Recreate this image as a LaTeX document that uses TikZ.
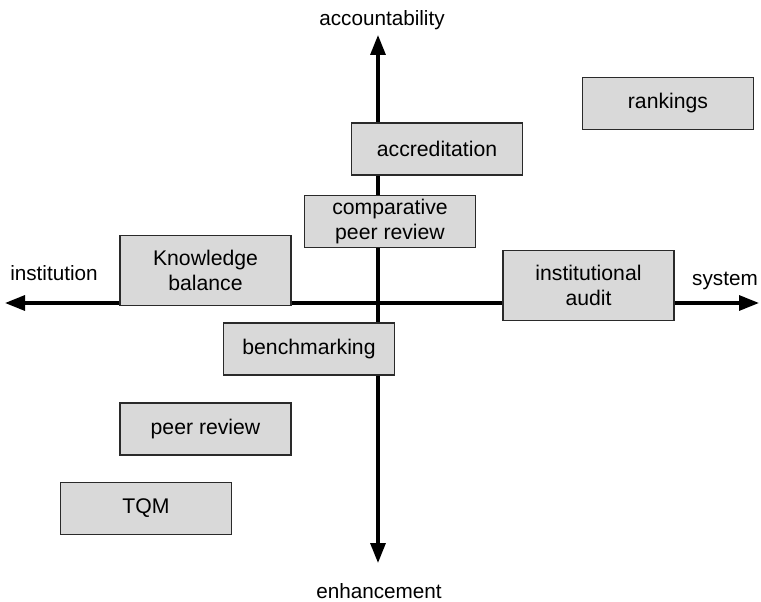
\documentclass[tikz,border=0pt]{standalone}
\usepackage{fontspec}
\setmainfont{Liberation Sans}
\usetikzlibrary{arrows.meta}
\definecolor{boxfill}{HTML}{D9D9D9}
\definecolor{boxline}{HTML}{2A2A2A}
\begin{document}
\begin{tikzpicture}[x=1pt,y=-1pt,
  every node/.style={font=\fontsize{20.7}{25}\selectfont},
  axis/.style={line width=3.2pt,-{Triangle[length=20pt,width=15pt]}},
  qbox/.style={draw=boxline,line width=1.4pt,fill=boxfill,align=center,
    minimum width=171pt,minimum height=52pt,inner sep=0pt,
    font=\fontsize{21.2}{25}\selectfont},
  tallbox/.style={qbox,minimum height=70pt},
  axislabel/.style={inner sep=0pt}]
  \useasboundingbox (0,0) rectangle (761,602);
  % axis end points
  \coordinate (centre) at (378,303);
  \coordinate (west) at (5,303);
  \coordinate (east) at (759,303);
  \coordinate (north) at (378,35);
  \coordinate (south) at (378,563);
  % the two axes
  \draw[axis] (centre) -- (west);
  \draw[axis] (centre) -- (east);
  \draw[axis] (centre) -- (north);
  \draw[axis] (centre) -- (south);
  % axis labels
  \node[axislabel] (acc) at (382,20) {accountability};
  \node[axislabel] (enh) at (379,591) {enhancement};
  \node[axislabel] (inst) at (54,273) {institution};
  \node[axislabel] (sys) at (725,281) {system};
  % instruments
  \node[qbox] (rank) at (668,103.5) {rankings};
  \node[qbox] (accr) at (437,149) {accreditation};
  \node[qbox] (cpr) at (390,221.5) {comparative\\peer review};
  \node[tallbox] (kb) at (205.5,270.5) {Knowledge\\balance};
  \node[tallbox] (ia) at (588.5,285.5) {institutional\\audit};
  \node[qbox] (bench) at (309,349) {benchmarking};
  \node[qbox] (peer) at (205.5,429) {peer review};
  \node[qbox] (tqm) at (146,508.5) {TQM};
\end{tikzpicture}
\end{document}
